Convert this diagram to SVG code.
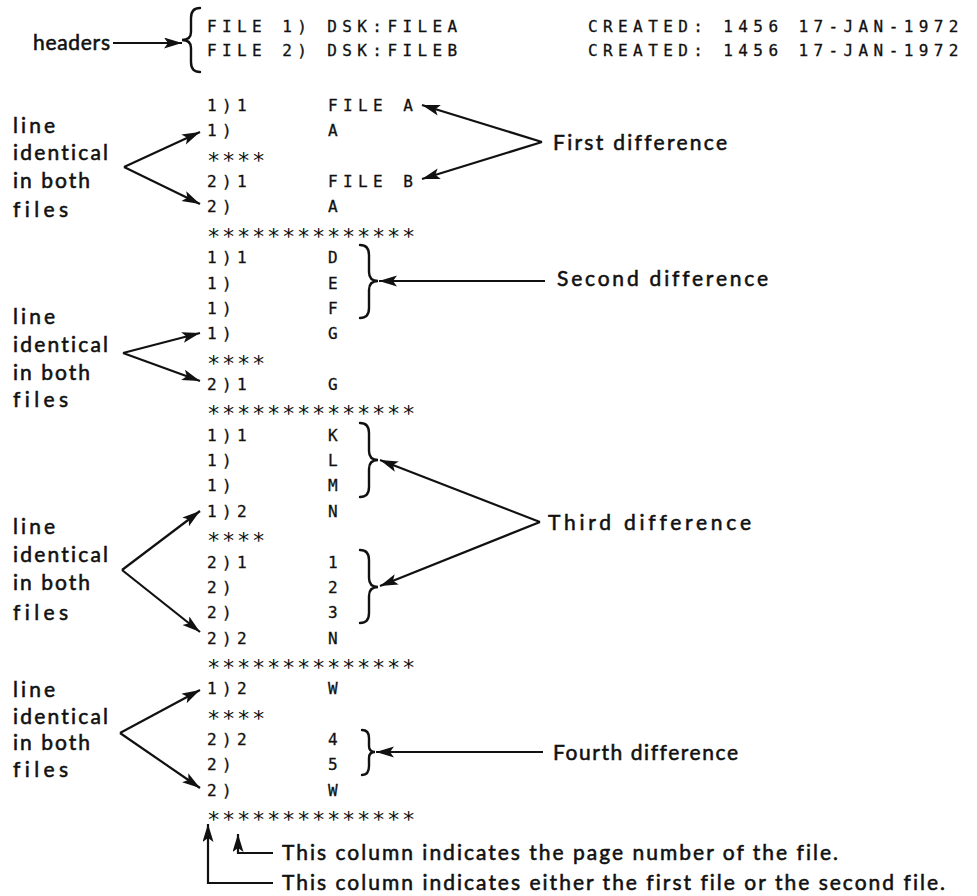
<svg xmlns="http://www.w3.org/2000/svg" width="977" height="896" viewBox="0 0 977 896">
<style>
  .tt{font-family:"DejaVu Sans Mono","Liberation Mono",monospace;font-size:16px;letter-spacing:5.4px;fill:#111;stroke:#111;stroke-width:0.3}
  .st{font-family:"DejaVu Sans Mono","Liberation Mono",monospace;font-size:22px;letter-spacing:1.75px;fill:#111}
  .lb{font-family:Lato,"Noto Sans","DejaVu Sans",sans-serif;font-size:21px;font-weight:400;fill:#111;stroke:#111;stroke-width:0.55;font-variant-ligatures:none}
  .ln{fill:none;stroke:#111;stroke-width:2.2}
  .br{fill:none;stroke:#111;stroke-width:2.4;stroke-linecap:round}
</style>
<defs>
  <marker id="ah" markerUnits="userSpaceOnUse" markerWidth="20" markerHeight="12" refX="18" refY="5.5" orient="auto">
    <path d="M0,0 L18,5.5 L0,11 L4,5.5 z" fill="#111"/>
  </marker>
</defs>
<rect width="977" height="896" fill="#fff"/>

<g id="header-label"><text class="lb" x="33" y="50" textLength="77">headers</text></g>
<g id="header-lines">
  <path class="br" d="M200,8 Q191,8 191,18 L191,32 Q191,40 182,40 Q191,40 191,48 L191,62 Q191,72 200,72"/>
  <text class="tt" x="207" y="32">FILE 1) DSK:FILEA</text>
  <text class="tt" x="207" y="56">FILE 2) DSK:FILEB</text>
  <text class="tt" x="588" y="32">CREATED: 1456 17-JAN-1972</text>
  <text class="tt" x="588" y="56">CREATED: 1456 17-JAN-1972</text>
</g>

<g id="listing">
  <text class="tt" x="207" y="111">1)1</text><text class="tt" x="328" y="111">FILE A</text>
  <text class="tt" x="207" y="136.4">1)</text><text class="tt" x="328" y="136.4">A</text>
  <text class="st" x="207" y="167.7">****</text>
  <text class="tt" x="207" y="187.1">2)1</text><text class="tt" x="328" y="187.1">FILE B</text>
  <text class="tt" x="207" y="212.4">2)</text><text class="tt" x="328" y="212.4">A</text>
  <text class="st" x="207" y="243.8">**************</text>
  <text class="tt" x="207" y="263.2">1)1</text><text class="tt" x="328" y="263.2">D</text>
  <text class="tt" x="207" y="288.5">1)</text><text class="tt" x="328" y="288.5">E</text>
  <text class="tt" x="207" y="313.9">1)</text><text class="tt" x="328" y="313.9">F</text>
  <text class="tt" x="207" y="339.2">1)</text><text class="tt" x="328" y="339.2">G</text>
  <text class="st" x="207" y="370.6">****</text>
  <text class="tt" x="207" y="390">2)1</text><text class="tt" x="328" y="390">G</text>
  <text class="st" x="207" y="421.3">**************</text>
  <text class="tt" x="207" y="440.7">1)1</text><text class="tt" x="328" y="440.7">K</text>
  <text class="tt" x="207" y="466">1)</text><text class="tt" x="328" y="466">L</text>
  <text class="tt" x="207" y="491.4">1)</text><text class="tt" x="328" y="491.4">M</text>
  <text class="tt" x="207" y="516.8">1)2</text><text class="tt" x="328" y="516.8">N</text>
  <text class="st" x="207" y="548.1">****</text>
  <text class="tt" x="207" y="567.5">2)1</text><text class="tt" x="328" y="567.5">1</text>
  <text class="tt" x="207" y="592.8">2)</text><text class="tt" x="328" y="592.8">2</text>
  <text class="tt" x="207" y="618.2">2)</text><text class="tt" x="328" y="618.2">3</text>
  <text class="tt" x="207" y="643.6">2)2</text><text class="tt" x="328" y="643.6">N</text>
  <text class="st" x="207" y="674.9">**************</text>
  <text class="tt" x="207" y="694.3">1)2</text><text class="tt" x="328" y="694.3">W</text>
  <text class="st" x="207" y="725.6">****</text>
  <text class="tt" x="207" y="745">2)2</text><text class="tt" x="328" y="745">4</text>
  <text class="tt" x="207" y="770.4">2)</text><text class="tt" x="328" y="770.4">5</text>
  <text class="tt" x="207" y="795.7">2)</text><text class="tt" x="328" y="795.7">W</text>
  <text class="st" x="207" y="827.1">**************</text>
</g>

<g id="braces">
  <path class="br" d="M360,245 Q369,245 369,255 L369,272 Q369,281 378,281 Q369,281 369,290 L369,308 Q369,318 360,318"/>
  <path class="br" d="M360,423 Q369,423 369,433 L369,451 Q369,460 378,460 Q369,460 369,469 L369,487 Q369,497 360,497"/>
  <path class="br" d="M360,550 Q369,550 369,560 L369,578 Q369,587 378,587 Q369,587 369,596 L369,613 Q369,623 360,623"/>
  <path class="br" d="M362,730 Q369,730 369,738 L369,746 Q369,752 375,752 Q369,752 369,758 L369,766 Q369,775 362,775"/>
</g>

<g id="same1">
  <text class="lb" x="13" y="133" textLength="42">line</text>
  <text class="lb" x="13" y="160" textLength="95">identical</text>
  <text class="lb" x="13" y="188" textLength="77">in both</text>
  <text class="lb" x="13" y="217" textLength="55">files</text>
</g>
<g id="same2">
  <text class="lb" x="13" y="324" textLength="42">line</text>
  <text class="lb" x="13" y="352" textLength="95">identical</text>
  <text class="lb" x="13" y="380" textLength="77">in both</text>
  <text class="lb" x="13" y="407" textLength="55">files</text>
</g>
<g id="same3">
  <text class="lb" x="13" y="534" textLength="42">line</text>
  <text class="lb" x="13" y="562" textLength="95">identical</text>
  <text class="lb" x="13" y="590" textLength="77">in both</text>
  <text class="lb" x="13" y="620" textLength="55">files</text>
</g>
<g id="same4">
  <text class="lb" x="13" y="697" textLength="42">line</text>
  <text class="lb" x="13" y="724" textLength="95">identical</text>
  <text class="lb" x="13" y="750" textLength="77">in both</text>
  <text class="lb" x="13" y="777" textLength="55">files</text>
</g>

<g id="diff1"><text class="lb" x="553" y="150" textLength="174">First difference</text></g>
<g id="diff2"><text class="lb" x="557" y="286" textLength="211">Second difference</text></g>
<g id="diff3"><text class="lb" x="548" y="530" textLength="203">Third difference</text></g>
<g id="diff4"><text class="lb" x="553" y="760" textLength="185">Fourth difference</text></g>
<g id="note-page"><text class="lb" x="282" y="860" textLength="556">This column indicates the page number of the file.</text></g>
<g id="note-file"><text class="lb" x="282" y="890" textLength="663">This column indicates either the first file or the second file.</text></g>

<g id="connectors">
  <path class="ln" d="M113,43 L182,43" marker-end="url(#ah)"/>
  <path class="ln" d="M124,167 L200,132" marker-end="url(#ah)"/>
  <path class="ln" d="M124,167 L200,204" marker-end="url(#ah)"/>
  <path class="ln" d="M123,353 L200,333" marker-end="url(#ah)"/>
  <path class="ln" d="M123,353 L200,381" marker-end="url(#ah)"/>
  <path class="ln" d="M122,570 L200,511" marker-end="url(#ah)"/>
  <path class="ln" d="M122,570 L200,632" marker-end="url(#ah)"/>
  <path class="ln" d="M120,733 L200,690" marker-end="url(#ah)"/>
  <path class="ln" d="M120,733 L200,788" marker-end="url(#ah)"/>
  <path class="ln" d="M542,142 L422,105" marker-end="url(#ah)"/>
  <path class="ln" d="M542,142 L422,179" marker-end="url(#ah)"/>
  <path class="ln" d="M545,281 L379,281" marker-end="url(#ah)"/>
  <path class="ln" d="M540,522 L380,460" marker-end="url(#ah)"/>
  <path class="ln" d="M540,522 L380,586" marker-end="url(#ah)"/>
  <path class="ln" d="M543,752 L376,752" marker-end="url(#ah)"/>
  <path class="ln" d="M273,853 H238 V834" marker-end="url(#ah)"/>
  <path class="ln" d="M273,883 H208 V824" marker-end="url(#ah)"/>
</g>
</svg>
